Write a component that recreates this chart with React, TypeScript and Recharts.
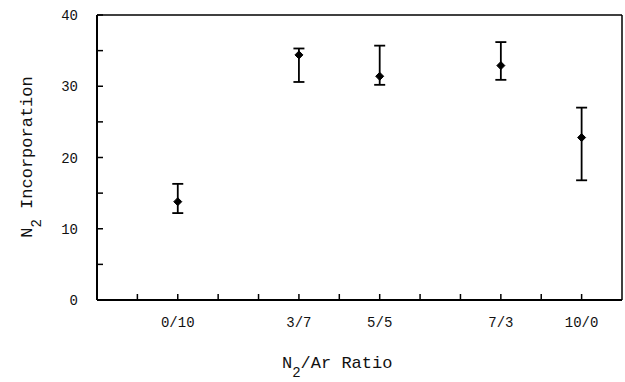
import React from "react"
import {
  ScatterChart,
  Scatter,
  XAxis,
  YAxis,
  ErrorBar,
  ReferenceLine,
  Label,
} from "recharts"

// N2/Ar ratio categories and where they sit on the x scale
const ratioLabels = ["0/10", "3/7", "5/5", "7/3", "10/0"]
const ratioPositions = [2, 5, 7, 10, 12]

// N2 incorporation (mean) and error bar bounds
const incorporation = [13.8, 34.4, 31.4, 32.9, 22.8]
const lowerBound = [12.2, 30.6, 30.2, 30.9, 16.8]
const upperBound = [16.3, 35.3, 35.7, 36.2, 27.0]

const xTicks = [1, 2, 3, 4, 5, 6, 7, 8, 9, 10, 11, 12]
const yTicks = [0, 5, 10, 15, 20, 25, 30, 35, 40]

const data = ratioPositions.map((pos, i) => ({
  pos,
  value: incorporation[i],
  err: [incorporation[i] - lowerBound[i], upperBound[i] - incorporation[i]],
}))

const font = "'Liberation Mono', 'DejaVu Sans Mono', monospace"

// ticks point into the plot, labels only on the ratio positions
const XTick = (props: any) => {
  const { x, y, payload } = props
  const idx = ratioPositions.indexOf(payload.value)
  return (
    <g>
      <line x1={x} x2={x} y1={y} y2={y - 6} stroke="#000" strokeWidth={1.5} />
      {idx >= 0 && (
        <text x={x} y={y + 27} textAnchor="middle" fontFamily={font} fontSize={14} fill="#111">
          {ratioLabels[idx]}
        </text>
      )}
    </g>
  )
}

const YTick = (props: any) => {
  const { x, y, payload } = props
  const major = payload.value % 10 === 0
  return (
    <g>
      <line x1={x} x2={x + 6} y1={y} y2={y} stroke="#000" strokeWidth={1.5} />
      {major && (
        <text x={x - 19} y={y + 5} textAnchor="end" fontFamily={font} fontSize={14} fill="#111">
          {payload.value}
        </text>
      )}
    </g>
  )
}

const Marker = (props: any) => {
  const { cx, cy } = props
  return (
    <path
      d={`M${cx},${cy - 4} L${cx + 4},${cy} L${cx},${cy + 4} L${cx - 4},${cy} Z`}
      fill="#000"
      stroke="#000"
      strokeWidth={1}
      strokeLinejoin="round"
    />
  )
}

export default function App() {
  return (
    <div style={{ position: "absolute", left: 0, top: 0, background: "#fff" }}>
      <ScatterChart width={625} height={382} margin={{ top: 15, right: 3, bottom: 0, left: 0 }}>
        <XAxis
          type="number"
          dataKey="pos"
          domain={[0, 13]}
          ticks={xTicks}
          interval={0}
          height={82}
          tickSize={0}
          tickMargin={0}
          tickLine={false}
          tick={<XTick />}
          axisLine={{ stroke: "#000", strokeWidth: 2 }}
        >
          <Label
            content={() => (
              <text x={282} y={368} fontFamily={font} fontSize={17} fill="#111">
                N
                <tspan dy={9} fontSize={14}>2</tspan>
                <tspan dy={-9}>/Ar Ratio</tspan>
              </text>
            )}
          />
        </XAxis>
        <YAxis
          type="number"
          dataKey="value"
          domain={[0, 40]}
          ticks={yTicks}
          interval={0}
          width={97}
          tickSize={0}
          tickMargin={0}
          tickLine={false}
          tick={<YTick />}
          axisLine={{ stroke: "#000", strokeWidth: 2 }}
        >
          <Label
            content={() => (
              <text
                x={32}
                y={157}
                textAnchor="middle"
                transform="rotate(-90 32 157)"
                fontFamily={font}
                fontSize={17}
                fill="#111"
              >
                N
                <tspan dy={9} fontSize={14}>2</tspan>
                <tspan dy={-9}> Incorporation</tspan>
              </text>
            )}
          />
        </YAxis>
        <ReferenceLine y={40} stroke="#000" strokeWidth={1.5} />
        <ReferenceLine x={13} stroke="#000" strokeWidth={1.5} />
        <Scatter data={data} shape={<Marker />} isAnimationActive={false}>
          <ErrorBar dataKey="err" direction="y" width={5.5} stroke="#000" strokeWidth={1.8} />
        </Scatter>
      </ScatterChart>
    </div>
  )
}
